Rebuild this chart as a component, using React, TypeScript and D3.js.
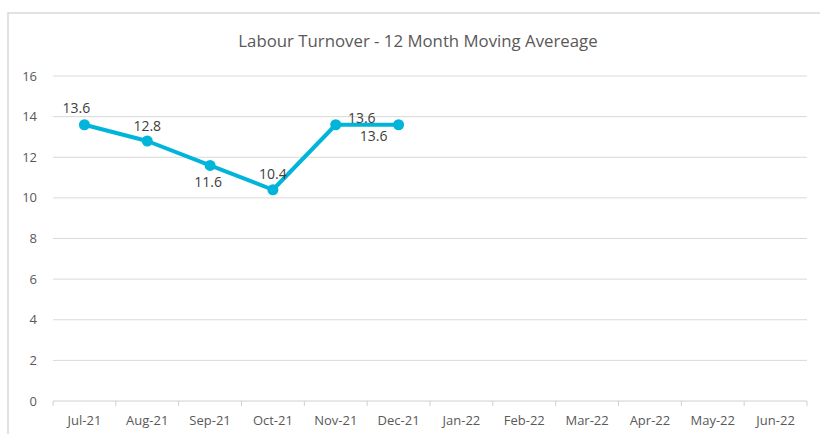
import React from "react";
import * as d3 from "d3";

const months = ["Jul-21","Aug-21","Sep-21","Oct-21","Nov-21","Dec-21","Jan-22","Feb-22","Mar-22","Apr-22","May-22","Jun-22"];
const values: (number | null)[] = [13.6, 12.8, 11.6, 10.4, 13.6, 13.6, null, null, null, null, null, null];
const yTicks = [0, 2, 4, 6, 8, 10, 12, 14, 16];
const labelOffsets: [number, number][] = [[-8, -17], [0, -15], [-2, 17], [0, -16], [26, -7], [-25, 11]];
const title = "Labour Turnover - 12 Month Moving Avereage";

const W = 820, H = 434;
const left = 53, right = 807, top = 76, bottom = 401;
const FONT = "'Open Sans', 'Liberation Sans', sans-serif";
const LINE = "#00B4DA";

export default function App() {
  const x = d3.scaleBand<string>().domain(months).range([left, right]).paddingInner(0).paddingOuter(0);
  const y = d3.scaleLinear().domain([0, 16]).range([bottom, top]);
  const cx = (m: string) => (x(m) ?? 0) + x.bandwidth() / 2;
  const pts = months.map((m, i) => ({ m, v: values[i], i })).filter(d => d.v != null) as { m: string; v: number; i: number }[];
  const line = d3.line<{ m: string; v: number }>().x(d => cx(d.m)).y(d => y(d.v));
  const boundaries = months.map(m => x(m) ?? 0).concat([right]);

  return (
    <svg width={W} height={H} style={{ position: "absolute", left: 0, top: 0, background: "#fff" }}>
      <rect x={8} y={13} width={W} height={H} fill="#fff" stroke="#d9d9d9" strokeWidth={1.5} />
      <text x={418} y={47} textAnchor="middle" fontFamily={FONT} fontSize={16.8} fill="#595959">{title}</text>
      {yTicks.map(t => (
        <g key={t}>
          {t !== 0 && <line x1={left} x2={right} y1={y(t)} y2={y(t)} stroke="#d9d9d9" strokeWidth={1} />}
          <text x={37} y={y(t) + 4.5} textAnchor="end" fontFamily={FONT} fontSize={13} fill="#595959">{t}</text>
        </g>
      ))}
      <line x1={left} x2={right} y1={bottom} y2={bottom} stroke="#d0d0d0" strokeWidth={1} />
      {boundaries.map((b, i) => (
        <line key={i} x1={b} x2={b} y1={bottom} y2={bottom + 5} stroke="#d0d0d0" strokeWidth={1} />
      ))}
      {months.map(m => (
        <text key={m} x={cx(m)} y={bottom + 24} textAnchor="middle" fontFamily={FONT} fontSize={13} fill="#595959">{m}</text>
      ))}
      <path d={line(pts) ?? ""} fill="none" stroke={LINE} strokeWidth={4} strokeLinejoin="round" />
      {pts.map(d => (
        <circle key={d.m} cx={cx(d.m)} cy={y(d.v)} r={5.5} fill={LINE} />
      ))}
      {pts.map(d => (
        <text key={"l" + d.m} x={cx(d.m) + labelOffsets[d.i][0]} y={y(d.v) + labelOffsets[d.i][1] + 4.8}
          textAnchor="middle" fontFamily={FONT} fontSize={14} fill="#404040">{d.v.toFixed(1)}</text>
      ))}
    </svg>
  );
}
